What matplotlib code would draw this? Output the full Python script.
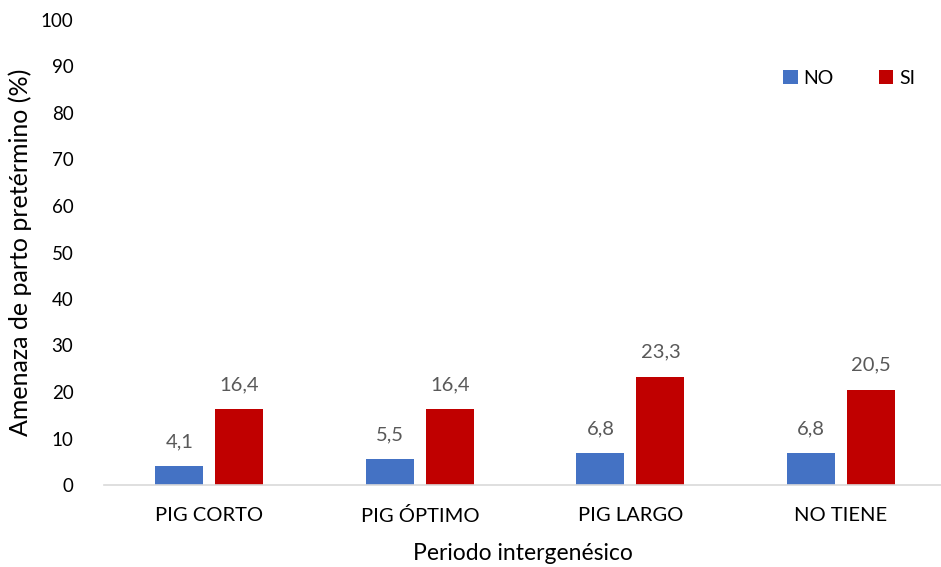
import matplotlib.pyplot as plt
import numpy as np

categorias = ["PIG CORTO", "PIG ÓPTIMO", "PIG LARGO", "NO TIENE"]
valores_no = [4.1, 5.5, 6.8, 6.8]
valores_si = [16.4, 16.4, 23.3, 20.5]

plt.rcParams['font.family'] = ['Lato', 'DejaVu Sans']

fig = plt.figure(figsize=(9.41, 5.67), dpi=100)
ax = fig.add_axes([104 / 941, 1 - 485 / 567, 837 / 941, 465 / 567])

x = np.arange(len(categorias))
ancho = 0.228
desp = 0.1425

b_no = ax.bar(x - desp, valores_no, ancho, color="#4472C4", label="NO")
b_si = ax.bar(x + desp, valores_si, ancho, color="#C00000", label="SI")

# etiquetas de valor con coma decimal
for barras, vals in ((b_no, valores_no), (b_si, valores_si)):
    for b, v in zip(barras, vals):
        ax.text(b.get_x() + b.get_width() / 2, v + 3.4, f"{v:.1f}".replace(".", ","),
                ha="center", va="bottom", fontsize=14.5, color="#595959")

ax.set_ylim(0, 100)
ax.set_xlim(-0.5, 3.475)
ax.set_yticks(range(0, 101, 10))
ax.set_xticks(x)
ax.set_xticklabels(categorias)
ax.tick_params(axis="both", length=0, colors="#000000")
ax.tick_params(axis="x", pad=16, labelsize=14.5)
ax.tick_params(axis="y", pad=22, labelsize=13.5)

for s in ("top", "right", "left"):
    ax.spines[s].set_visible(False)
ax.spines["bottom"].set_color("#D9D9D9")
ax.spines["bottom"].set_linewidth(1.2)

ax.set_ylabel("Amenaza de parto pretérmino (%)", fontsize=18, labelpad=6)
ax.set_xlabel("Periodo intergenésico", fontsize=16.5, labelpad=13)

ax.legend(loc="upper right", bbox_to_anchor=(0.99, 0.93), ncol=2, frameon=False,
          fontsize=14, handlelength=0.75, handleheight=0.75, columnspacing=2.3,
          handletextpad=0.3)

fig.savefig("out.png", dpi=100)
